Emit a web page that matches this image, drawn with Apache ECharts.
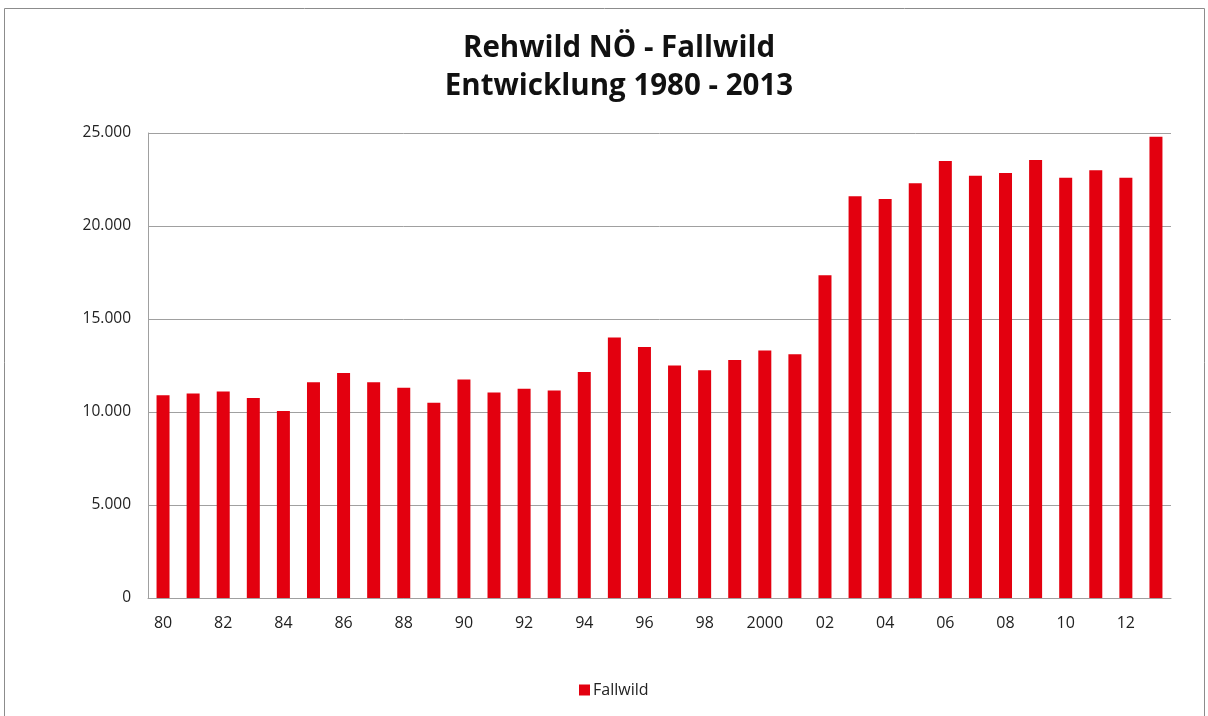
<!DOCTYPE html>
<html>
<head>
    <meta charset="utf-8">
    <script src="https://cdn.jsdelivr.net/npm/echarts@6/dist/echarts.min.js"></script>
    <style>
        html, body { margin: 0; padding: 0; background: #fff; }
        #main { width: 1208px; height: 716px; }
    </style>
</head>
<body>
    <div id="main"></div>
    <script type="text/javascript">
        var years = ['80', '81', '82', '83', '84', '85', '86', '87', '88', '89',
            '90', '91', '92', '93', '94', '95', '96', '97', '98', '99',
            '2000', '01', '02', '03', '04', '05', '06', '07', '08', '09',
            '10', '11', '12', '13'];
        var fallwild = [10900, 11000, 11100, 10750, 10050, 11600, 12100, 11600, 11300, 10500,
            11750, 11050, 11250, 11150, 12150, 14000, 13500, 12500, 12250, 12800,
            13300, 13100, 17350, 21600, 21450, 22300, 23500, 22700, 22850, 23550,
            22600, 23000, 22600, 24800];

        var myChart = echarts.init(document.getElementById('main'));

        // 25000 -> "25.000"
        var fmt = function (v) {
            return String(v).replace(/\B(?=(\d{3})+(?!\d))/g, '.');
        };

        var option = {
            animation: false,
            title: {
                text: 'Rehwild NÖ - Fallwild\nEntwicklung 1980 - 2013',
                left: 614,
                textAlign: 'center',
                top: 25,
                textStyle: {
                    fontFamily: 'Open Sans',
                    fontWeight: 'bold',
                    fontSize: 29.5,
                    lineHeight: 38,
                    color: '#111'
                }
            },
            graphic: [{
                type: 'rect',
                shape: { x: 4.5, y: 8.5, width: 1200, height: 720 },
                style: { fill: 'none', stroke: '#8c8c8c', lineWidth: 1 },
                silent: true
            }],
            legend: {
                data: ['Fallwild'],
                top: 677,
                left: 574,
                itemWidth: 11,
                itemHeight: 11,
                icon: 'rect',
                itemGap: 6,
                textStyle: { fontFamily: 'Open Sans', fontSize: 16, color: '#222', padding: [0, 0, 0, -2] }
            },
            grid: {
                left: 148,
                right: 37,
                top: 133,
                bottom: 118
            },
            xAxis: {
                type: 'category',
                data: years,
                axisTick: { show: false },
                axisLine: { lineStyle: { color: '#a0a0a0' } },
                axisLabel: {
                    interval: 1,
                    margin: 17,
                    fontFamily: 'Open Sans',
                    fontSize: 16,
                    color: '#222'
                }
            },
            yAxis: {
                type: 'value',
                min: 0,
                max: 25000,
                interval: 5000,
                axisLine: { show: true, lineStyle: { color: '#a0a0a0' } },
                axisTick: { show: false },
                splitLine: { lineStyle: { color: '#a0a0a0' } },
                axisLabel: {
                    margin: 17,
                    fontFamily: 'Open Sans',
                    fontSize: 15.5,
                    color: '#222',
                    formatter: fmt
                }
            },
            series: [{
                name: 'Fallwild',
                type: 'bar',
                data: fallwild,
                barWidth: 13,
                itemStyle: { color: '#e3000f' }
            }]
        };
        myChart.setOption(option);
    </script>
</body>
</html>
